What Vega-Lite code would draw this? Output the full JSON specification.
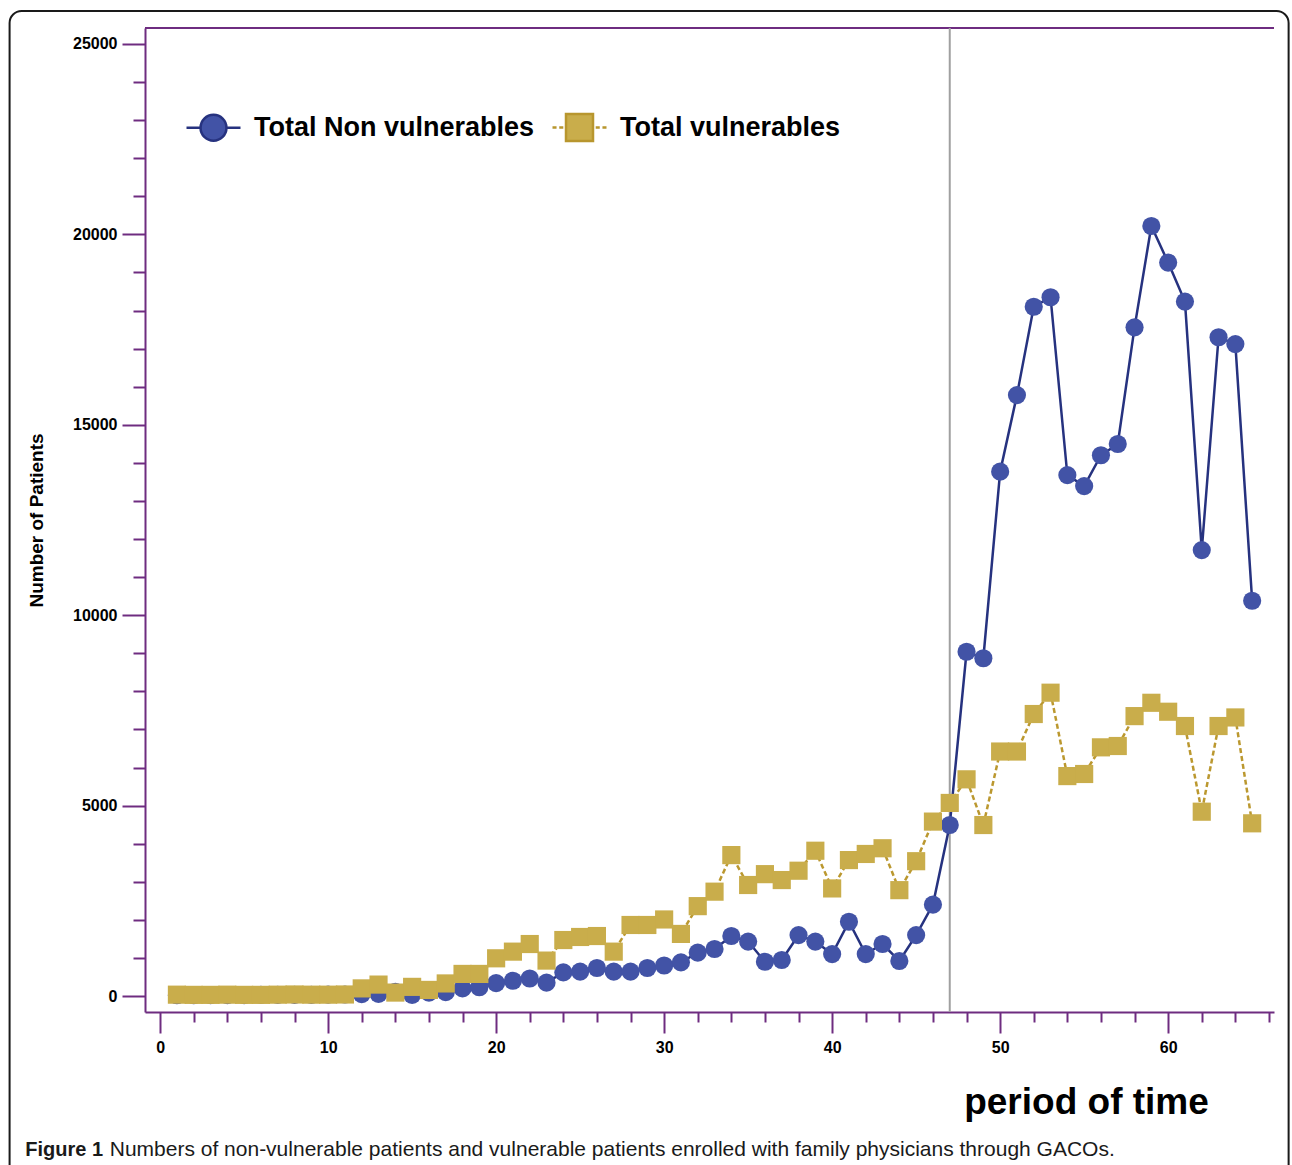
{
  "$schema": "https://vega.github.io/schema/vega-lite/v6.json",
  "width": 1129,
  "height": 984,
  "autosize": {"type": "none"},
  "padding": {"left": 145, "top": 28, "right": 18, "bottom": 153},
  "background": "white",
  "config": {
    "view": {"stroke": null},
    "font": "Liberation Sans"
  },
  "datasets": {
    "d": [
      {"t":1,"series":"Total Non vulnerables","v":20},{"t":2,"series":"Total Non vulnerables","v":20},{"t":3,"series":"Total Non vulnerables","v":25},{"t":4,"series":"Total Non vulnerables","v":25},{"t":5,"series":"Total Non vulnerables","v":25},{"t":6,"series":"Total Non vulnerables","v":30},{"t":7,"series":"Total Non vulnerables","v":30},{"t":8,"series":"Total Non vulnerables","v":30},{"t":9,"series":"Total Non vulnerables","v":30},{"t":10,"series":"Total Non vulnerables","v":35},
      {"t":11,"series":"Total Non vulnerables","v":40},{"t":12,"series":"Total Non vulnerables","v":50},{"t":13,"series":"Total Non vulnerables","v":55},{"t":14,"series":"Total Non vulnerables","v":110},{"t":15,"series":"Total Non vulnerables","v":30},{"t":16,"series":"Total Non vulnerables","v":90},{"t":17,"series":"Total Non vulnerables","v":100},{"t":18,"series":"Total Non vulnerables","v":200},{"t":19,"series":"Total Non vulnerables","v":230},{"t":20,"series":"Total Non vulnerables","v":340},
      {"t":21,"series":"Total Non vulnerables","v":400},{"t":22,"series":"Total Non vulnerables","v":460},{"t":23,"series":"Total Non vulnerables","v":350},{"t":24,"series":"Total Non vulnerables","v":620},{"t":25,"series":"Total Non vulnerables","v":640},{"t":26,"series":"Total Non vulnerables","v":735},{"t":27,"series":"Total Non vulnerables","v":640},{"t":28,"series":"Total Non vulnerables","v":640},{"t":29,"series":"Total Non vulnerables","v":735},{"t":30,"series":"Total Non vulnerables","v":800},
      {"t":31,"series":"Total Non vulnerables","v":885},{"t":32,"series":"Total Non vulnerables","v":1140},{"t":33,"series":"Total Non vulnerables","v":1235},{"t":34,"series":"Total Non vulnerables","v":1575},{"t":35,"series":"Total Non vulnerables","v":1430},{"t":36,"series":"Total Non vulnerables","v":900},{"t":37,"series":"Total Non vulnerables","v":945},{"t":38,"series":"Total Non vulnerables","v":1600},{"t":39,"series":"Total Non vulnerables","v":1430},{"t":40,"series":"Total Non vulnerables","v":1100},
      {"t":41,"series":"Total Non vulnerables","v":1950},{"t":42,"series":"Total Non vulnerables","v":1100},{"t":43,"series":"Total Non vulnerables","v":1365},{"t":44,"series":"Total Non vulnerables","v":920},{"t":45,"series":"Total Non vulnerables","v":1600},{"t":46,"series":"Total Non vulnerables","v":2400},{"t":47,"series":"Total Non vulnerables","v":4490},{"t":48,"series":"Total Non vulnerables","v":9040},{"t":49,"series":"Total Non vulnerables","v":8870},{"t":50,"series":"Total Non vulnerables","v":13770},
      {"t":51,"series":"Total Non vulnerables","v":15780},{"t":52,"series":"Total Non vulnerables","v":18100},{"t":53,"series":"Total Non vulnerables","v":18350},{"t":54,"series":"Total Non vulnerables","v":13680},{"t":55,"series":"Total Non vulnerables","v":13390},{"t":56,"series":"Total Non vulnerables","v":14200},{"t":57,"series":"Total Non vulnerables","v":14495},{"t":58,"series":"Total Non vulnerables","v":17560},{"t":59,"series":"Total Non vulnerables","v":20220},{"t":60,"series":"Total Non vulnerables","v":19260},
      {"t":61,"series":"Total Non vulnerables","v":18235},{"t":62,"series":"Total Non vulnerables","v":11710},{"t":63,"series":"Total Non vulnerables","v":17300},{"t":64,"series":"Total Non vulnerables","v":17120},{"t":65,"series":"Total Non vulnerables","v":10380},
      {"t":1,"series":"Total vulnerables","v":35},{"t":2,"series":"Total vulnerables","v":30},{"t":3,"series":"Total vulnerables","v":30},{"t":4,"series":"Total vulnerables","v":35},{"t":5,"series":"Total vulnerables","v":30},{"t":6,"series":"Total vulnerables","v":30},{"t":7,"series":"Total vulnerables","v":35},{"t":8,"series":"Total vulnerables","v":40},{"t":9,"series":"Total vulnerables","v":35},{"t":10,"series":"Total vulnerables","v":35},
      {"t":11,"series":"Total vulnerables","v":40},{"t":12,"series":"Total vulnerables","v":200},{"t":13,"series":"Total vulnerables","v":300},{"t":14,"series":"Total vulnerables","v":90},{"t":15,"series":"Total vulnerables","v":240},{"t":16,"series":"Total vulnerables","v":160},{"t":17,"series":"Total vulnerables","v":330},{"t":18,"series":"Total vulnerables","v":580},{"t":19,"series":"Total vulnerables","v":580},{"t":20,"series":"Total vulnerables","v":990},
      {"t":21,"series":"Total vulnerables","v":1165},{"t":22,"series":"Total vulnerables","v":1365},{"t":23,"series":"Total vulnerables","v":930},{"t":24,"series":"Total vulnerables","v":1470},{"t":25,"series":"Total vulnerables","v":1550},{"t":26,"series":"Total vulnerables","v":1575},{"t":27,"series":"Total vulnerables","v":1165},{"t":28,"series":"Total vulnerables","v":1865},{"t":29,"series":"Total vulnerables","v":1865},{"t":30,"series":"Total vulnerables","v":2010},
      {"t":31,"series":"Total vulnerables","v":1630},{"t":32,"series":"Total vulnerables","v":2360},{"t":33,"series":"Total vulnerables","v":2740},{"t":34,"series":"Total vulnerables","v":3700},{"t":35,"series":"Total vulnerables","v":2915},{"t":36,"series":"Total vulnerables","v":3200},{"t":37,"series":"Total vulnerables","v":3045},{"t":38,"series":"Total vulnerables","v":3290},{"t":39,"series":"Total vulnerables","v":3815},{"t":40,"series":"Total vulnerables","v":2825},
      {"t":41,"series":"Total vulnerables","v":3570},{"t":42,"series":"Total vulnerables","v":3730},{"t":43,"series":"Total vulnerables","v":3880},{"t":44,"series":"Total vulnerables","v":2780},{"t":45,"series":"Total vulnerables","v":3540},{"t":46,"series":"Total vulnerables","v":4580},{"t":47,"series":"Total vulnerables","v":5070},{"t":48,"series":"Total vulnerables","v":5690},{"t":49,"series":"Total vulnerables","v":4490},{"t":50,"series":"Total vulnerables","v":6420},
      {"t":51,"series":"Total vulnerables","v":6420},{"t":52,"series":"Total vulnerables","v":7405},{"t":53,"series":"Total vulnerables","v":7965},{"t":54,"series":"Total vulnerables","v":5775},{"t":55,"series":"Total vulnerables","v":5830},{"t":56,"series":"Total vulnerables","v":6530},{"t":57,"series":"Total vulnerables","v":6565},{"t":58,"series":"Total vulnerables","v":7350},{"t":59,"series":"Total vulnerables","v":7700},{"t":60,"series":"Total vulnerables","v":7465},
      {"t":61,"series":"Total vulnerables","v":7090},{"t":62,"series":"Total vulnerables","v":4840},{"t":63,"series":"Total vulnerables","v":7090},{"t":64,"series":"Total vulnerables","v":7315},{"t":65,"series":"Total vulnerables","v":4535}
    ]
  },
  "layer": [
    {
      "data": {"values": [{}]},
      "mark": {"type": "rect", "filled": false, "stroke": "#1a1a1a", "strokeWidth": 2, "cornerRadius": 12},
      "encoding": {
        "x": {"datum": -8.96, "type": "quantitative"},
        "x2": {"datum": 67.17},
        "y": {"datum": 25866, "type": "quantitative"},
        "y2": {"datum": -5200}
      }
    },
    {
      "data": {"values": [{}]},
      "mark": {"type": "rule", "stroke": "#6e2c80", "strokeWidth": 2},
      "encoding": {"y": {"datum": 25420, "type": "quantitative"}}
    },
    {
      "data": {"values": [{}]},
      "mark": {"type": "rule", "stroke": "#a0a0a0", "strokeWidth": 2},
      "encoding": {"x": {"datum": 47, "type": "quantitative"}}
    },
    {
      "data": {"name": "d"},
      "transform": [{"filter": "datum.series === 'Total Non vulnerables'"}],
      "mark": {"type": "line", "stroke": "#26327f", "strokeWidth": 2.5},
      "encoding": {
        "x": {"field": "t", "type": "quantitative",
          "scale": {"domain": [-0.9, 66.3], "nice": false, "zero": false},
          "axis": {
            "values": [0,2,4,6,8,10,12,14,16,18,20,22,24,26,28,30,32,34,36,38,40,42,44,46,48,50,52,54,56,58,60,62,64,66],
            "tickCount": 200,
            "labelExpr": "datum.value % 10 === 0 ? datum.label : ''",
            "format": "d",
            "grid": false,
            "domainColor": "#6e2c80", "domainWidth": 2,
            "tickColor": "#6e2c80", "tickWidth": 2,
            "tickSize": {"condition": {"test": "datum.value % 10 === 0", "value": 21}, "value": 10},
            "labelFont": "Liberation Sans", "labelFontSize": 16, "labelFontWeight": "bold", "labelColor": "#000000",
            "labelPadding": 6,
            "labelFlush": false,
            "labelOverlap": false,
            "title": "period of time",
            "titleFont": "Liberation Sans", "titleFontSize": 37, "titleFontWeight": "bold", "titleColor": "#000000",
            "titleX": 941, "titleY": 101, "titleAlign": "center", "titleBaseline": "alphabetic"
          }
        },
        "y": {"field": "v", "type": "quantitative",
          "scale": {"domain": [-420, 25420], "nice": false, "zero": false},
          "axis": {
            "values": [0,1000,2000,3000,4000,5000,6000,7000,8000,9000,10000,11000,12000,13000,14000,15000,16000,17000,18000,19000,20000,21000,22000,23000,24000,25000],
            "tickCount": 200,
            "labelExpr": "datum.value % 5000 === 0 ? datum.label : ''",
            "format": "d",
            "grid": false,
            "domainColor": "#6e2c80", "domainWidth": 2,
            "tickColor": "#6e2c80", "tickWidth": 2,
            "tickSize": {"condition": {"test": "datum.value % 5000 === 0", "value": 23}, "value": 12},
            "labelFont": "Liberation Sans", "labelFontSize": 16, "labelFontWeight": "bold", "labelColor": "#000000",
            "labelPadding": 5,
            "labelFlush": false,
            "labelOverlap": false,
            "title": "Number of Patients",
            "titleFont": "Liberation Sans", "titleFontSize": 19, "titleFontWeight": "bold", "titleColor": "#000000",
            "titleX": -109, "titleY": 492, "titleAlign": "center", "titleBaseline": "middle", "titleAngle": -90
          }
        }
      }
    },
    {
      "data": {"name": "d"},
      "transform": [{"filter": "datum.series === 'Total Non vulnerables'"}],
      "mark": {"type": "point", "shape": "circle", "filled": true, "size": 330, "opacity": 1},
      "encoding": {
        "x": {"field": "t", "type": "quantitative"},
        "y": {"field": "v", "type": "quantitative"},
        "color": {"field": "series", "type": "nominal",
          "scale": {"domain": ["Total Non vulnerables", "Total vulnerables"], "range": ["#4253a6", "#c9ad4b"]},
          "legend": {
            "title": null,
            "orient": "none", "legendX": 40, "legendY": 71,
            "direction": "horizontal",
            "padding": 0,
            "symbolSize": 2916,
            "symbolStrokeWidth": 2.5,
            "labelFont": "Liberation Sans", "labelFontSize": 27, "labelFontWeight": "bold", "labelColor": "#000000",
            "labelLimit": 500,
            "labelOffset": 12,
            "columnPadding": 12,
            "encoding": {
              "symbols": {
                "shape": {"condition": {"test": "datum.value === 'Total Non vulnerables'", "value": "M-1,0L-0.48,0M0.48,0L1,0M-0.48,0A0.48,0.48,0,1,1,0.48,0A0.48,0.48,0,1,1,-0.48,0Z"}, "value": "M-1,0H-0.85M-0.75,0H-0.6M0.6,0H0.75M0.85,0H1M-0.5,-0.5H0.5V0.5H-0.5Z"},
                "stroke": {"condition": {"test": "datum.value === 'Total Non vulnerables'", "value": "#26327f"}, "value": "#b8962e"},
                "strokeWidth": {"value": 2.5},
                "opacity": {"value": 1}
              }
            }
          }
        }
      }
    },
    {
      "data": {"name": "d"},
      "transform": [{"filter": "datum.series === 'Total vulnerables'"}],
      "mark": {"type": "line", "stroke": "#bb982f", "strokeWidth": 2.5, "strokeDash": [5, 3]},
      "encoding": {
        "x": {"field": "t", "type": "quantitative"},
        "y": {"field": "v", "type": "quantitative"}
      }
    },
    {
      "data": {"name": "d"},
      "transform": [{"filter": "datum.series === 'Total vulnerables'"}],
      "mark": {"type": "point", "shape": "square", "filled": true, "size": 330, "opacity": 1},
      "encoding": {
        "x": {"field": "t", "type": "quantitative"},
        "y": {"field": "v", "type": "quantitative"},
        "color": {"field": "series", "type": "nominal"}
      }
    },
    {
      "data": {"values": [{}]},
      "mark": {"type": "text", "text": "Figure 1", "font": "Liberation Sans", "fontSize": 20, "fontWeight": "bold", "align": "left", "baseline": "alphabetic", "color": "#1a1a1a"},
      "encoding": {
        "x": {"datum": -8.03, "type": "quantitative"},
        "y": {"datum": -4202, "type": "quantitative"}
      }
    },
    {
      "data": {"values": [{}]},
      "mark": {"type": "text", "text": "Numbers of non-vulnerable patients and vulnerable patients enrolled with family physicians through GACOs.", "font": "Liberation Sans", "fontSize": 21, "fontWeight": "normal", "align": "left", "baseline": "alphabetic", "color": "#1a1a1a"},
      "encoding": {
        "x": {"datum": -3.0, "type": "quantitative"},
        "y": {"datum": -4202, "type": "quantitative"}
      }
    }
  ]
}
